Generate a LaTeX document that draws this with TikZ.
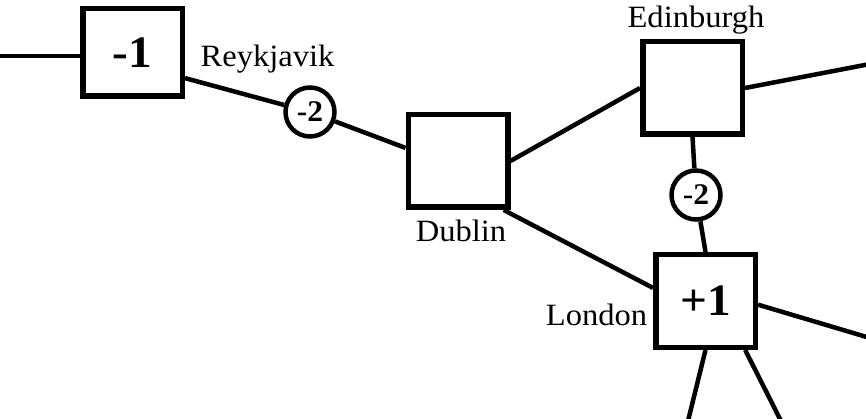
\documentclass[tikz,border=0pt]{standalone}
\usepackage{fontspec}
\setmainfont{Liberation Serif}[FakeStretch=1.05]
\begin{document}
\begin{tikzpicture}[x=1pt,y=-1pt,
  city/.style={draw,line width=5.5pt,minimum width=99.5pt,minimum height=92.5pt,inner sep=0pt,
    font=\fontsize{45}{45}\selectfont\bfseries},
  pen/.style={draw,circle,line width=4.5pt,minimum size=49pt,inner sep=0pt,
    font=\fontsize{30}{30}\selectfont\bfseries},
  link/.style={line width=4.5pt},
  lab/.style={anchor=base,inner sep=0pt,font=\fontsize{31}{31}\selectfont}]
\useasboundingbox[fill=white] (0,0) rectangle (866,419);
% boxes
\node[city,minimum height=87.5pt] (b1) at (132.5,52.5) {-1};
\node[city] (d) at (458,161) {};
\node[city] (e) at (692.5,88) {};
\node[city] (l) at (705.5,301) {+1};
% penalty circles
\node[pen] (c1) at (310,112) {-2};
\node[pen] (c2) at (696,195) {-2};
% labels
\node[lab] (rk) at (267.5,67) {Reykjavik};
\node[lab] (db) at (461,242) {Dublin};
\node[lab] (ed) at (696,28) {Edinburgh};
\node[lab] (ld) at (596.5,325) {London};
% connectors
\coordinate (w) at (0,56);
\draw[link] (w) -- (w -| b1.west);
\draw[link] (b1.-26) -- (c1);
\draw[link] (c1) -- (d.166);
\draw[link] (d.east) -- (e.west);
\coordinate (eR) at (870,64);
\draw[link] (e.east) -- (eR);
\draw[link] (e.south) -- (c2);
\draw[link] (c2) -- (l.north);
\draw[link] (d.-47) -- (l.166);
\coordinate (lR) at (870,338);
\draw[link] (l.-4) -- (lR);
\coordinate (lB1) at (687,425);
\draw[link] (l.south) -- (lB1);
\coordinate (lB2) at (783,425);
\draw[link] (l.-51) -- (lB2);
\end{tikzpicture}
\end{document}
